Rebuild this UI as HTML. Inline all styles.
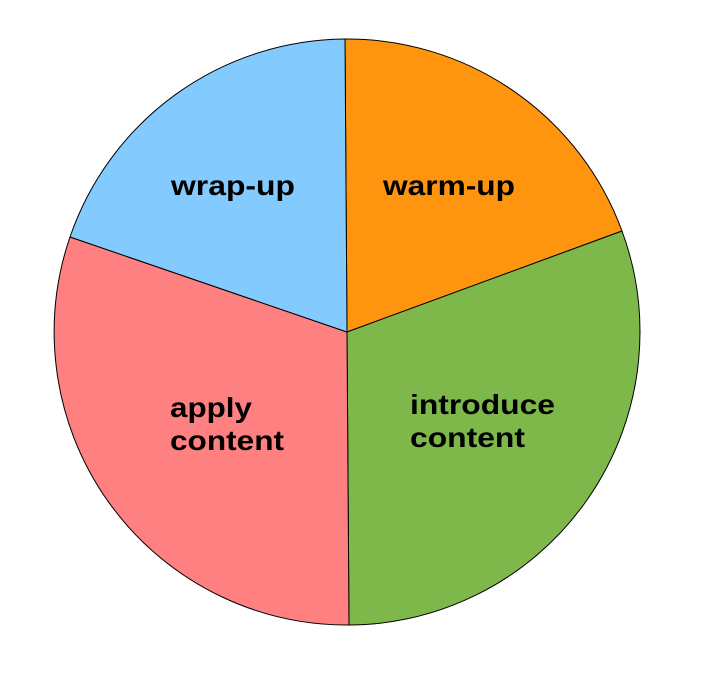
<!DOCTYPE html>
<html><head><style>body{margin:0;background:#fff}svg{display:block}</style></head>
<body>
<svg width="722" height="682" viewBox="0 0 722 682" xmlns="http://www.w3.org/2000/svg">
<g stroke="#000" stroke-width="1" stroke-linejoin="round">
<path d="M347,332 L345,39 A293,293 0 0 1 622,231 Z" fill="#ff950e"/>
<path d="M347,332 L622,231 A293,293 0 0 1 349,625 Z" fill="#7fb84a"/>
<path d="M347,332 L349,625 A293,293 0 0 1 70,237 Z" fill="#ff8080"/>
<path d="M347,332 L70,237 A293,293 0 0 1 345,39 Z" fill="#83caff"/>
</g>
<g font-family="Liberation Sans, sans-serif" font-weight="bold" font-size="28" fill="#000" lengthAdjust="spacingAndGlyphs">
<text x="383" y="195" textLength="132" lengthAdjust="spacingAndGlyphs">warm-up</text>
<text x="171" y="195" textLength="124" lengthAdjust="spacingAndGlyphs">wrap-up</text>
<text x="410" y="414" textLength="145" lengthAdjust="spacingAndGlyphs">introduce</text>
<text x="410" y="447" textLength="115" lengthAdjust="spacingAndGlyphs">content</text>
<text x="170" y="417" textLength="82" lengthAdjust="spacingAndGlyphs">apply</text>
<text x="170" y="450" textLength="114" lengthAdjust="spacingAndGlyphs">content</text>
</g>
</svg>
</body></html>
